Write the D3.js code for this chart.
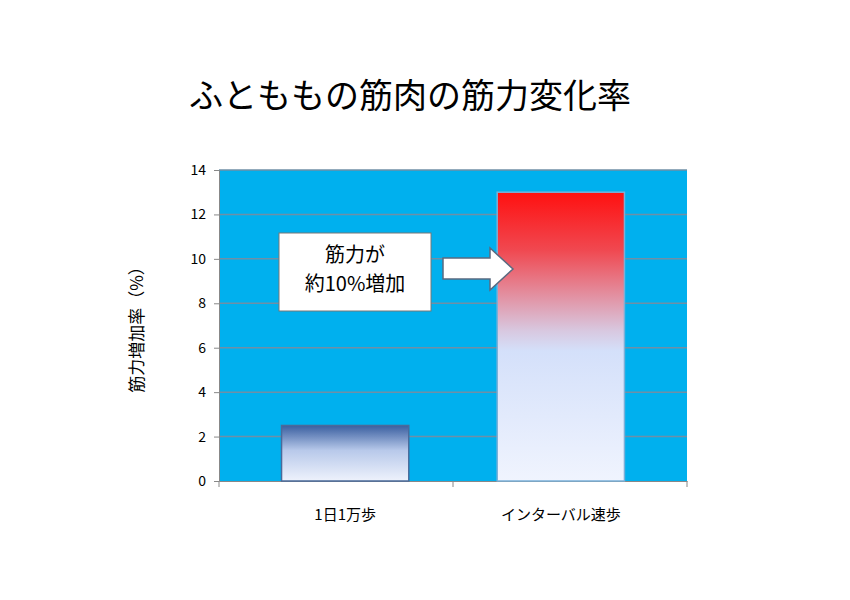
<!DOCTYPE html><html><head><meta charset="utf-8"><script src="https://d3js.org/d3.v7.min.js"></script>
<style>body{margin:0;background:#fff}</style></head><body><script>
const categories=["1日1万歩","インターバル速歩"];
const values=[2.5,13];
const yTicks=[0,2,4,6,8,10,12,14];
const title="ふとももの筋肉の筋力変化率";
const yLabel="筋力増加率（%）";
const note=["筋力が","約10%増加"];
const F='"Noto Sans CJK JP","Noto Sans",sans-serif';
const W=850,H=600,m={l:219,r:163,t:170,b:119};
const svg=d3.select("body").append("svg").attr("width",W).attr("height",H);
const x=d3.scaleBand().domain(categories).range([m.l,W-m.r]).paddingInner(0.41).paddingOuter(0.29);
const y=d3.scaleLinear().domain([0,14]).range([H-m.b,m.t]);
const defs=svg.append("defs");
const g1=defs.append("linearGradient").attr("id","g1").attr("x1",0).attr("y1",0).attr("x2",0).attr("y2",1);
[[0,"#3a5fa0"],[0.45,"#b8c9ea"],[1,"#eef2fc"]].forEach(d=>g1.append("stop").attr("offset",d[0]).attr("stop-color",d[1]));
const g2=defs.append("linearGradient").attr("id","g2").attr("x1",0).attr("y1",0).attr("x2",0).attr("y2",1);
[[0,"#ff1010"],[0.2,"#f04850"],[0.48,"#d8c8e0"],[0.55,"#d4e0fa"],[1,"#f0f4fe"]].forEach(d=>g2.append("stop").attr("offset",d[0]).attr("stop-color",d[1]));
svg.append("rect").attr("x",m.l).attr("y",m.t).attr("width",W-m.r-m.l).attr("height",H-m.b-m.t).attr("fill","#00b0ee");
svg.append("g").selectAll("line").data(yTicks.slice(1)).join("line").attr("x1",m.l).attr("x2",W-m.r).attr("y1",d=>y(d)).attr("y2",d=>y(d)).attr("stroke","#6f8fa6").attr("stroke-width",1.5);
const ya=svg.append("g").attr("transform",`translate(${m.l},0)`).call(d3.axisLeft(y).tickValues(yTicks).tickSize(5).tickPadding(8));
const xa=svg.append("g").attr("transform",`translate(0,${H-m.b})`).call(d3.axisBottom(x).tickSize(0).tickPadding(28));
[ya,xa].forEach(a=>{a.selectAll("text").attr("font-family",F).attr("font-size",14).attr("fill","#000");a.selectAll("path,line").attr("stroke","#888");});
xa.selectAll("text").attr("font-size",15);
const xa2=svg.append("g").attr("transform",`translate(0,${H-m.b})`);
[m.l,(m.l+W-m.r)/2,W-m.r].forEach(v=>xa2.append("line").attr("x1",v).attr("x2",v).attr("y1",0).attr("y2",6).attr("stroke","#888"));
svg.selectAll(".bar").data(values).join("rect").attr("x",(d,i)=>x(categories[i])).attr("width",x.bandwidth())
 .attr("y",d=>y(d)).attr("height",d=>y(0)-y(d)).attr("fill",(d,i)=>`url(#g${i+1})`).attr("stroke",(d,i)=>i?"#7ab0d8":"#4a6a9a").attr("stroke-width",1.5);
svg.append("text").attr("x",W/2-15).attr("y",108).attr("text-anchor","middle").attr("font-family",F).attr("font-size",34).text(title);
svg.append("text").attr("transform",`translate(143,${(m.t+H-m.b)/2}) rotate(-90)`).attr("text-anchor","middle").attr("font-family",F).attr("font-size",17).text(yLabel);
svg.append("rect").attr("x",279).attr("y",233).attr("width",152).attr("height",78).attr("fill","#fff").attr("stroke","#777");
note.forEach((t,i)=>svg.append("text").attr("x",355).attr("y",262+i*29).attr("text-anchor","middle").attr("font-family",F).attr("font-size",20).text(t));
svg.append("path").attr("d","M443,258H490V248L513,269L490,290V279H443Z").attr("fill","#fff").attr("stroke","#5a6a80").attr("stroke-width",1.5);
</script></body></html>
